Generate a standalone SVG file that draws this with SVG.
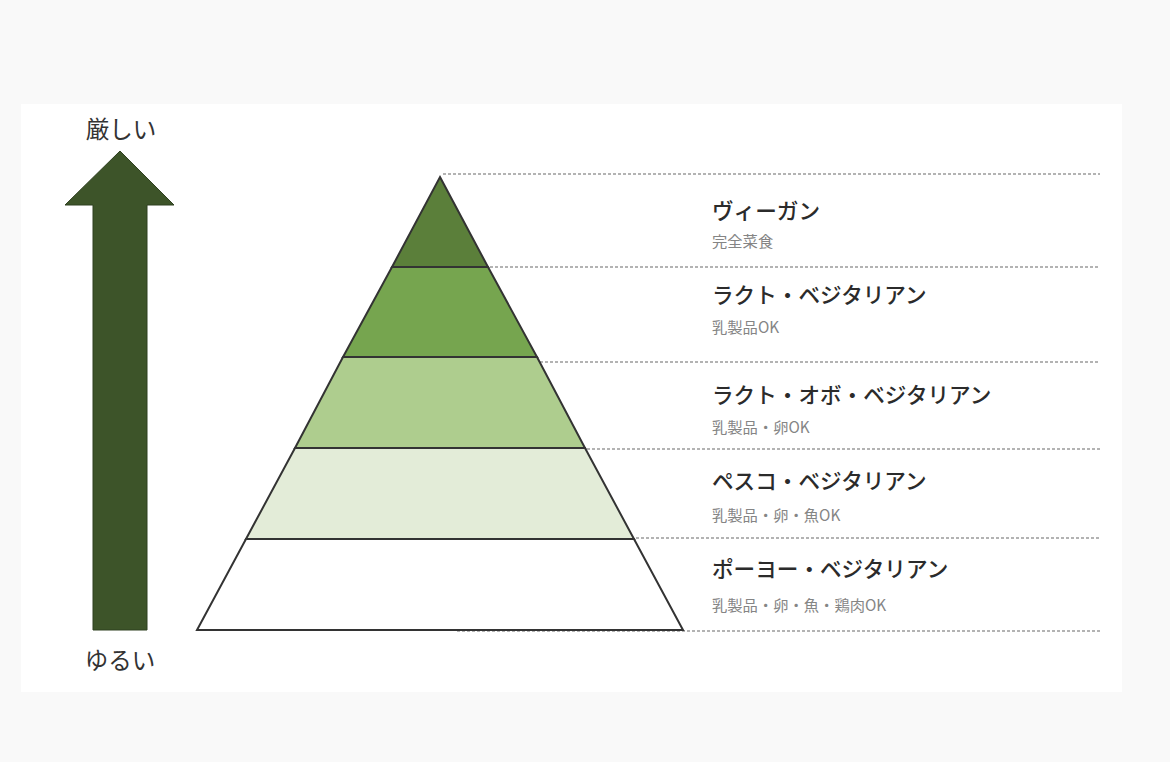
<svg xmlns="http://www.w3.org/2000/svg" width="1170" height="762" viewBox="0 0 1170 762">
<style>
.main{font-family:"Noto Sans CJK JP","Noto Sans",sans-serif;font-size:21.6px;fill:#2b2b2b;font-weight:500}
.sub{font-family:"Noto Sans CJK JP","Noto Sans",sans-serif;font-size:15.3px;fill:#858585}
.axis{font-family:"Noto Sans CJK JP","Noto Sans",sans-serif;font-size:23.5px;fill:#333}
.dash{stroke:#9a9a9a;stroke-width:1.5;stroke-dasharray:3 2;fill:none}
.band{stroke:#333;stroke-width:2;stroke-linejoin:miter}
</style>
<rect x="0" y="0" width="1170" height="762" fill="#f9f9f9"/>
<rect x="21" y="104" width="1101" height="588" fill="#ffffff"/>
<g id="connectors">
<line class="dash" x1="443" y1="174" x2="1100" y2="174"/>
<line class="dash" x1="490" y1="267" x2="1100" y2="267"/>
<line class="dash" x1="540" y1="362" x2="1100" y2="362"/>
<line class="dash" x1="587" y1="449" x2="1100" y2="449"/>
<line class="dash" x1="636" y1="538" x2="1100" y2="538"/>
<line class="dash" x1="457" y1="631" x2="1100" y2="631"/>
</g>
<g id="arrow">
<polygon points="120,151 174,205 147,205 147,630 93,630 93,205 65,205" fill="#3d5429" stroke="#2f4020" stroke-width="1"/>
<text class="axis" x="121" y="138" text-anchor="middle">厳しい</text>
<text class="axis" x="120" y="669" text-anchor="middle">ゆるい</text>
</g>
<g id="pyramid">
<g id="band-vegan"><polygon class="band" points="440,177 488,267 392,267" fill="#5b7f3a"/></g>
<g id="band-lacto"><polygon class="band" points="392,267 488,267 537,357 343,357" fill="#76a54f"/></g>
<g id="band-lacto-ovo"><polygon class="band" points="343,357 537,357 585,448 295,448" fill="#aecd8e"/></g>
<g id="band-pesco"><polygon class="band" points="295,448 585,448 634,539 246,539" fill="#e3ecd8"/></g>
<g id="band-pollo"><polygon class="band" points="246,539 634,539 683,630 197,630" fill="#ffffff"/></g>
</g>
<g id="label-vegan"><text class="main" x="712" y="219">ヴィーガン</text><text class="sub" x="712" y="247">完全菜食</text></g>
<g id="label-lacto"><text class="main" x="712" y="303">ラクト・ベジタリアン</text><text class="sub" x="712" y="333">乳製品OK</text></g>
<g id="label-lacto-ovo"><text class="main" x="712" y="403">ラクト・オボ・ベジタリアン</text><text class="sub" x="712" y="433">乳製品・卵OK</text></g>
<g id="label-pesco"><text class="main" x="712" y="489">ペスコ・ベジタリアン</text><text class="sub" x="712" y="521">乳製品・卵・魚OK</text></g>
<g id="label-pollo"><text class="main" x="712" y="577">ポーヨー・ベジタリアン</text><text class="sub" x="712" y="611">乳製品・卵・魚・鶏肉OK</text></g>
</svg>
